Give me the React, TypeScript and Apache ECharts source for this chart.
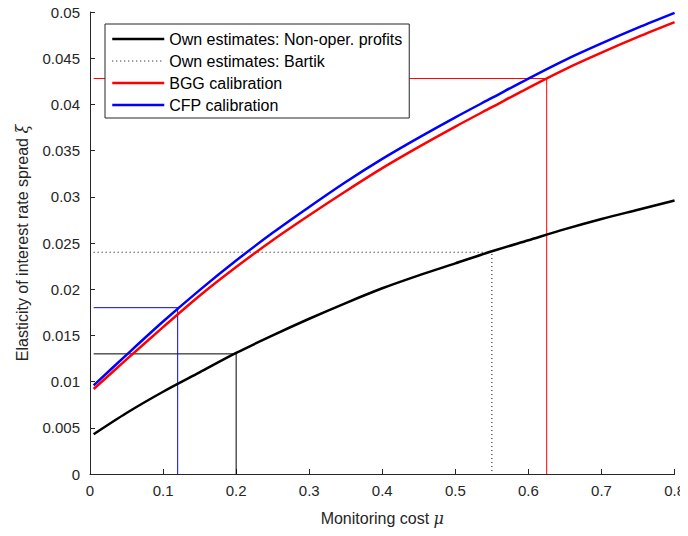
import React, { useEffect, useRef } from "react";
import * as echarts from "echarts";

const muGrid = [0.005, 0.05, 0.1, 0.15, 0.2, 0.25, 0.3, 0.35, 0.4, 0.45, 0.5, 0.55, 0.6, 0.65, 0.7, 0.75, 0.8];
const ownNonOper = [0.0043, 0.0066, 0.0089, 0.0110, 0.0131, 0.0150, 0.0168, 0.0185, 0.0201, 0.0215, 0.0228, 0.0241, 0.0253, 0.0265, 0.0276, 0.0286, 0.0296];
const bgg = [0.0092, 0.0124, 0.0159, 0.0193, 0.0224, 0.0253, 0.0280, 0.0306, 0.0331, 0.0354, 0.0376, 0.0397, 0.0418, 0.0438, 0.0456, 0.0473, 0.0489];
const cfp = [0.0096, 0.0129, 0.0165, 0.0199, 0.0231, 0.0261, 0.0289, 0.0316, 0.0341, 0.0364, 0.0386, 0.0407, 0.0428, 0.0448, 0.0466, 0.0483, 0.0499];

// reference markers: [mu, xi]
const refStart = 0.005;
const markNonOper = [0.2, 0.013];
const markBartik = [0.55, 0.024];
const markBGG = [0.625, 0.0428];
const markCFP = [0.12, 0.018];

const names = [
  "Own estimates: Non-oper. profits",
  "Own estimates: Bartik",
  "BGG calibration",
  "CFP calibration",
];
const legendLineWidths = [2.5, 1, 2.5, 2.5];

const FONT = "'Liberation Sans', Arial, Helvetica, sans-serif";
const AX = "#262626";

function pairs(xs: number[], ys: number[]) {
  return xs.map((x, i) => [x, ys[i]]);
}
function elbow(m: number[]) {
  return [
    [refStart, m[1]],
    [m[0], m[1]],
    [m[0], 0],
  ];
}

export default function App() {
  const ref = useRef<HTMLDivElement>(null);
  useEffect(() => {
    if (!ref.current) return;
    const chart = echarts.init(ref.current, undefined, { renderer: "svg" });
    const curve = (name: string, ys: number[], color: string) => ({
      name,
      type: "line",
      data: pairs(muGrid, ys),
      showSymbol: false,
      symbol: "none",
      smooth: 0.3,
      lineStyle: { color, width: 2.5 },
      itemStyle: { color },
      z: 3,
    });
    const thin = (name: string, m: number[], color: string, type: any) => ({
      name,
      type: "line",
      data: elbow(m),
      showSymbol: false,
      symbol: "none",
      lineStyle: { color, width: 1, type },
      itemStyle: { color },
      z: 2,
    });

    chart.setOption({
      animation: false,
      textStyle: { fontFamily: FONT },
      grid: { left: 90, right: 12, top: 12, bottom: 62 },
      legend: {
        data: names.map((n, i) => ({ name: n, lineStyle: { width: legendLineWidths[i] } })),
        orient: "vertical",
        left: 105,
        top: 24,
        itemWidth: 52,
        itemHeight: 14,
        itemGap: 6,
        padding: [7, 7, 5, 6],
        backgroundColor: "#ffffff",
        borderColor: AX,
        borderWidth: 1,
        borderRadius: 0,
        selectedMode: false,
        itemStyle: { opacity: 0 },
        z: 10,
        textStyle: { fontFamily: FONT, fontSize: 16, color: "#000", lineHeight: 14 },
      },
      xAxis: {
        type: "value",
        min: 0,
        max: 0.8,
        interval: 0.1,
        name: "Monitoring cost {i|μ}",
        nameLocation: "middle",
        nameGap: 36,
        nameTextStyle: {
          fontFamily: FONT,
          fontSize: 16,
          color: AX,
          rich: { i: { fontFamily: "'DejaVu Serif', serif", fontStyle: "italic", fontSize: 16, color: AX } },
        },
        axisLine: { lineStyle: { color: AX, width: 1 } },
        axisTick: { inside: true, length: 5, lineStyle: { color: AX } },
        axisLabel: { fontFamily: FONT, fontSize: 15, color: AX, margin: 9 },
        splitLine: { show: false },
      },
      yAxis: {
        type: "value",
        min: 0,
        max: 0.05,
        interval: 0.005,
        name: "Elasticity of interest rate spread {i|ξ}",
        nameLocation: "middle",
        nameGap: 60,
        nameTextStyle: {
          fontFamily: FONT,
          fontSize: 16,
          color: AX,
          rich: { i: { fontFamily: "'DejaVu Serif', serif", fontStyle: "italic", fontSize: 16, color: AX } },
        },
        axisLine: { show: true, lineStyle: { color: AX, width: 1 } },
        axisTick: { show: true, inside: true, length: 5, lineStyle: { color: AX } },
        axisLabel: { fontFamily: FONT, fontSize: 15, color: AX, margin: 10 },
        splitLine: { show: false },
      },
      series: [
        thin("ref-nonoper", markNonOper, "#000000", "solid"),
        thin(names[1], markBartik, "#000000", [1, 3]),
        thin("ref-bgg", markBGG, "#ff0000", "solid"),
        thin("ref-cfp", markCFP, "#0000ff", "solid"),
        curve(names[0], ownNonOper, "#000000"),
        curve(names[2], bgg, "#ff0000"),
        curve(names[3], cfp, "#0000ff"),
      ],
    });
    return () => chart.dispose();
  }, []);
  return <div ref={ref} style={{ width: 688, height: 536, margin: -8 }} />;
}
